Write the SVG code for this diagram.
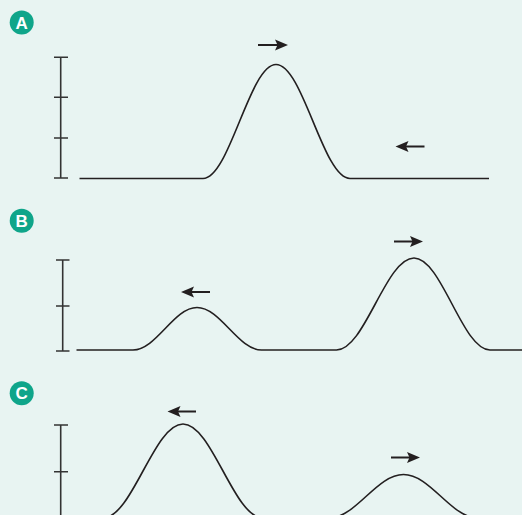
<svg xmlns="http://www.w3.org/2000/svg" width="522" height="515" viewBox="0 0 522 515">
  <style>
    .wave { fill: none; stroke: #231f20; stroke-width: 1.6; }
    .axis { fill: none; stroke: #333333; stroke-width: 1.6; }
    .arrow { fill: none; stroke: #231f20; stroke-width: 2; marker-end: url(#head); }
    .badge { fill: #0fa58a; }
    .badge-text { fill: #ffffff; font-family: "Liberation Sans", Arial, sans-serif; font-weight: bold; font-size: 17px; text-anchor: middle; }
  </style>
  <defs>
    <marker id="head" markerUnits="userSpaceOnUse" markerWidth="20" markerHeight="14" refX="0" refY="0" orient="auto" overflow="visible">
      <path d="M6,0 L-7,-5.5 L-4.5,0 L-7,5.5 Z" fill="#231f20"/>
    </marker>
  </defs>
  <rect x="0" y="0" width="522" height="515" fill="#e8f4f2"/>

  <g id="panel-A">
    <g id="badge-A">
      <circle class="badge" cx="21.7" cy="22.5" r="12"/>
      <text class="badge-text" x="21.7" y="28.6">A</text>
    </g>
    <g id="axis-A">
      <path class="axis" d="M60.7,57.3 V178 M54,57.3 H68 M54,97.3 H68 M54,138 H68 M54,178 H68"/>
    </g>
    <g id="wave-A">
      <path class="wave" d="M79.5,178.5 H203 C229.5,178.5 249.5,64.5 276,64.5 C303,64.5 323.1,178.5 350,178.5 H489"/>
    </g>
  </g>

  <g id="panel-B">
    <g id="badge-B">
      <circle class="badge" cx="21.7" cy="220.7" r="12"/>
      <text class="badge-text" x="21.7" y="226.8">B</text>
    </g>
    <g id="axis-B">
      <path class="axis" d="M62.7,260 V351 M56,260 H69.5 M56,306 H69.5 M56,351 H69.5"/>
    </g>
    <g id="wave-B">
      <path class="wave" d="M76.5,350 H133 C156.3,350 173.7,307.5 197,307.5 C220.4,307.5 238.1,350 261.5,350 H336.5 C364.7,350 385.8,258 414,258 C441.6,258 462.4,350 490,350 H522"/>
    </g>
  </g>

  <g id="panel-C">
    <g id="badge-C">
      <circle class="badge" cx="21.7" cy="393.3" r="12"/>
      <text class="badge-text" x="21.7" y="399.4">C</text>
    </g>
    <g id="axis-C">
      <path class="axis" d="M60.7,425 V520 M54,425 H68 M54,471.7 H68"/>
    </g>
    <g id="wave-C">
      <path class="wave" d="M78,518 H103 C132.1,518 153.9,424 183,424 C212.1,424 233.9,518 263,518 H329 C356.1,518 376.4,474.5 403.5,474.5 C430.6,474.5 450.9,518 478,518"/>
    </g>
  </g>

  <g id="connectors">
    <line class="arrow" x1="258" y1="45" x2="282" y2="45"/>
    <line class="arrow" x1="424.5" y1="146.5" x2="401.5" y2="146.5"/>
    <line class="arrow" x1="210" y1="292" x2="187" y2="292"/>
    <line class="arrow" x1="394" y1="241.5" x2="417" y2="241.5"/>
    <line class="arrow" x1="196" y1="411.5" x2="173.5" y2="411.5"/>
    <line class="arrow" x1="391" y1="457.5" x2="414" y2="457.5"/>
  </g>
</svg>
